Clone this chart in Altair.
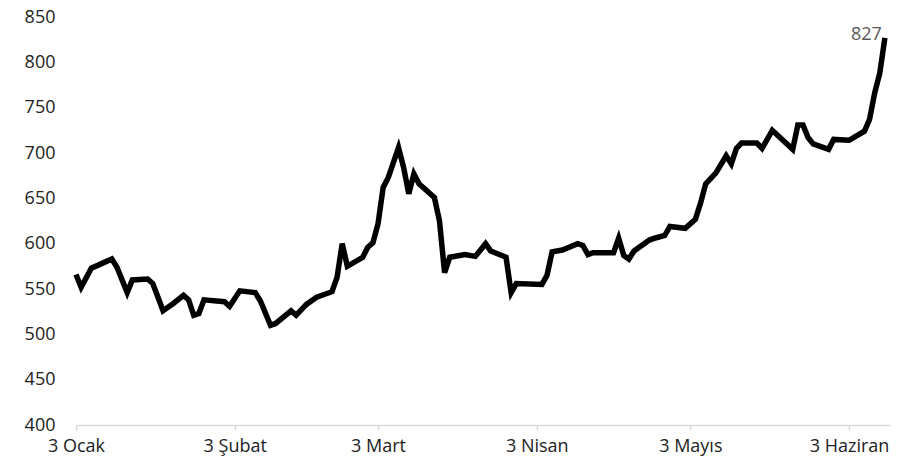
import altair as alt
import pandas as pd

dates = [
    "2022-01-03", "2022-01-04", "2022-01-06", "2022-01-08", "2022-01-10", "2022-01-11",
    "2022-01-13", "2022-01-14", "2022-01-17", "2022-01-18", "2022-01-20", "2022-01-22",
    "2022-01-24", "2022-01-25", "2022-01-26", "2022-01-27", "2022-01-28", "2022-02-01",
    "2022-02-02", "2022-02-04", "2022-02-07", "2022-02-08", "2022-02-10", "2022-02-11",
    "2022-02-14", "2022-02-15", "2022-02-17", "2022-02-19", "2022-02-22", "2022-02-23",
    "2022-02-24", "2022-02-25", "2022-02-28", "2022-03-01", "2022-03-02", "2022-03-03",
    "2022-03-04", "2022-03-05", "2022-03-07", "2022-03-08", "2022-03-09", "2022-03-10",
    "2022-03-11", "2022-03-14", "2022-03-15", "2022-03-16", "2022-03-17", "2022-03-20",
    "2022-03-22", "2022-03-24", "2022-03-25", "2022-03-28", "2022-03-29", "2022-03-30",
    "2022-04-04", "2022-04-05", "2022-04-06", "2022-04-08", "2022-04-11", "2022-04-12",
    "2022-04-13", "2022-04-14", "2022-04-18", "2022-04-19", "2022-04-20", "2022-04-21",
    "2022-04-22", "2022-04-25", "2022-04-26", "2022-04-28", "2022-04-29", "2022-05-02",
    "2022-05-04", "2022-05-05", "2022-05-06", "2022-05-08", "2022-05-10", "2022-05-11",
    "2022-05-12", "2022-05-13", "2022-05-16", "2022-05-17", "2022-05-19", "2022-05-23",
    "2022-05-24", "2022-05-25", "2022-05-26", "2022-05-27", "2022-05-30", "2022-05-31",
    "2022-06-03", "2022-06-06", "2022-06-07", "2022-06-08", "2022-06-09", "2022-06-10",
]
values = [
    566, 552, 573, 578, 583, 574,
    546, 560, 561, 556, 526, 534,
    543, 538, 521, 523, 538, 536,
    531, 548, 546, 537, 510, 512,
    526, 521, 533, 541, 547, 563,
    600, 575, 585, 596, 601, 622,
    662, 673, 706, 684, 655, 677,
    666, 651, 625, 568, 585, 588,
    586, 600, 592, 585, 546, 556,
    555, 565, 591, 593, 600, 598,
    588, 590, 590, 606, 587, 583,
    592, 604, 606, 609, 619, 617,
    627, 645, 666, 678, 697, 688,
    705, 711, 711, 705, 725, 704,
    731, 731, 717, 710, 704, 715,
    714, 724, 737, 766, 788, 827,
]
month_names = ["Ocak", "Şubat", "Mart", "Nisan", "Mayıs", "Haziran"]
tick_months = [1, 2, 3, 4, 5, 6]
y_ticks = [400, 450, 500, 550, 600, 650, 700, 750, 800, 850]

df = pd.DataFrame({"date": [d + "T00:00:00" for d in dates], "value": values})
last = df.tail(1).copy()
last["label"] = last["value"].astype(str)

FONT = "Open Sans"
names_js = "[" + ",".join("'" + m + "'" for m in month_names) + "]"

x_enc = alt.X(
    "date:T",
    scale=alt.Scale(domain=[alt.DateTime(year=2022, month=1, date=3),
                            alt.DateTime(year=2022, month=6, date=11)]),
    axis=alt.Axis(
        values=[alt.DateTime(year=2022, month=m, date=3) for m in tick_months],
        labelExpr="date(datum.value) + ' ' + " + names_js + "[month(datum.value)]",
        title=None,
        grid=False,
        domainColor="#d9d9d9",
        domainWidth=1.5,
        tickColor="#d9d9d9",
        tickSize=5,
        tickWidth=1.5,
        labelFont=FONT,
        labelFontSize=18,
        labelColor="#222222",
        labelPadding=7,
        labelFlush=False,
    ),
)
y_enc = alt.Y(
    "value:Q",
    scale=alt.Scale(domain=[400, 850], nice=False, zero=False),
    axis=alt.Axis(
        values=y_ticks,
        title=None,
        grid=False,
        domain=False,
        ticks=False,
        labelFont=FONT,
        labelFontSize=18,
        labelColor="#222222",
        labelPadding=21,
    ),
)

line = alt.Chart(df).mark_line(color="black", strokeWidth=5.5, strokeJoin="miter").encode(
    x=x_enc, y=y_enc
)
label = alt.Chart(last).mark_text(
    align="right", baseline="middle", dx=-3, dy=-3, font=FONT, fontSize=18, color="#595959"
).encode(x="date:T", y="value:Q", text="label:N")

chart = (line + label).properties(
    width=814,
    height=408,
    autosize=alt.AutoSizeParams(type="none"),
    padding={"left": 68, "top": 9, "right": 14, "bottom": 34},
).configure_view(stroke=None)

chart.save("out.html", embed_options={"renderer": "svg", "actions": False})
